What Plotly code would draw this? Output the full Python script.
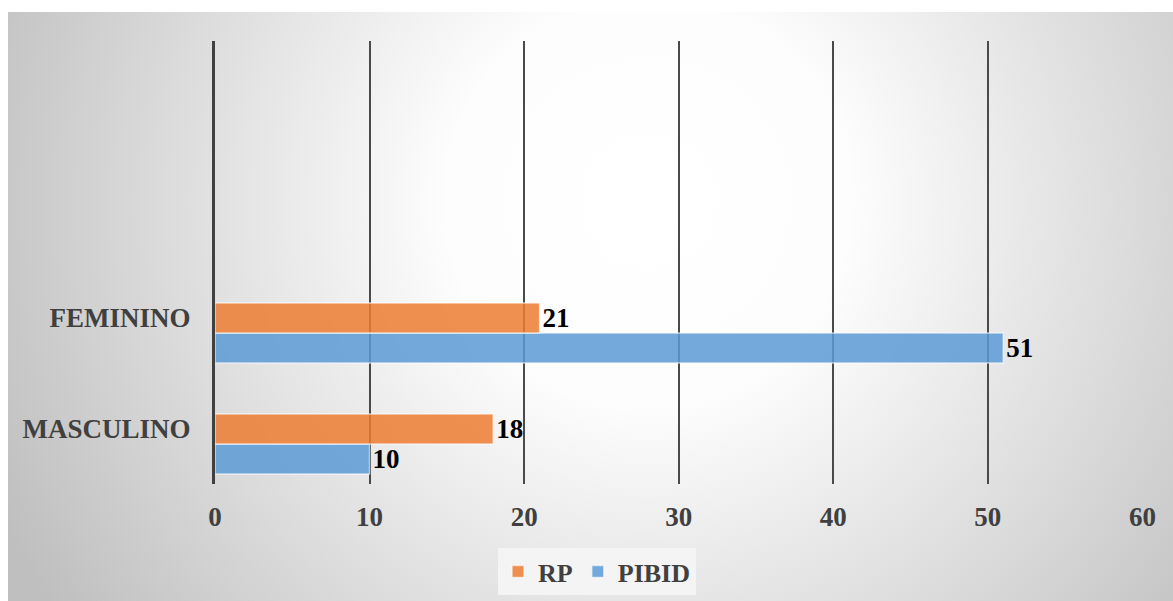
import base64
import plotly.graph_objects as go

categories = ["MASCULINO", "FEMININO"]
rp_values = [18, 21]
pibid_values = [10, 51]
x_ticks = [0, 10, 20, 30, 40, 50, 60]

W, H = 1173, 601
L, R, T, B = 215, 30, 41, 117
pw, ph = W - L - R, H - T - B

# radial gradient background (frame from x=8..1173, y=12..601)
fx0, fy0 = 8, 12
fw, fh = W - fx0, H - fy0
svg = f'''<svg xmlns="http://www.w3.org/2000/svg" width="{fw}" height="{fh}" viewBox="0 0 {fw} {fh}">
<defs><radialGradient id="g" gradientUnits="userSpaceOnUse" cx="640" cy="190" r="720">
<stop offset="0" stop-color="#ffffff"/><stop offset="0.28" stop-color="#fdfdfd"/>
<stop offset="1" stop-color="#bfbfbf"/></radialGradient></defs>
<rect x="0" y="0" width="{fw}" height="{fh}" fill="url(#g)"/></svg>'''
src = "data:image/svg+xml;base64," + base64.b64encode(svg.encode()).decode()

font_fam = "Liberation Serif, Times New Roman, serif"
ypos = list(range(len(categories)))

fig = go.Figure()
fig.add_trace(go.Bar(
    y=ypos, x=pibid_values, orientation="h", name="PIBID",
    marker=dict(color="rgba(91,155,213,0.85)", line=dict(color="rgba(255,255,255,0.6)", width=1.5)),
    text=pibid_values, textposition="outside", cliponaxis=False,
    textfont=dict(family=font_fam, size=27, color="#000000", weight="bold"),
    legendrank=2,
))
fig.add_trace(go.Bar(
    y=ypos, x=rp_values, orientation="h", name="RP",
    marker=dict(color="rgba(237,125,49,0.85)", line=dict(color="rgba(255,255,255,0.6)", width=1.5)),
    text=rp_values, textposition="outside", cliponaxis=False,
    textfont=dict(family=font_fam, size=27, color="#000000", weight="bold"),
    legendrank=1,
))

fig.update_layout(
    width=W, height=H,
    margin=dict(l=L, r=R, t=T, b=B, pad=0, autoexpand=False),
    paper_bgcolor="#ffffff",
    plot_bgcolor="rgba(0,0,0,0)",
    barmode="group", bargap=0.46, bargroupgap=0,
    images=[dict(source=src, xref="paper", yref="paper",
                 x=(fx0 - L) / pw, y=(H - B - fy0) / ph,
                 sizex=fw / pw, sizey=fh / ph,
                 xanchor="left", yanchor="top", sizing="stretch", layer="below")],
    xaxis=dict(range=[0, 60.04], tickvals=x_ticks, showgrid=True, gridcolor="#4a4a4a", gridwidth=1.5,
               zeroline=False, showline=False, ticks="", ticklabelstandoff=14,
               tickfont=dict(family=font_fam, size=27, color="#404040", weight="bold")),
    yaxis=dict(range=[-0.36, 3.63], tickvals=[v + 0.14 for v in ypos], ticktext=categories,
               showgrid=False, zeroline=False, showline=True, linecolor="#404040", linewidth=3,
               ticks="", ticklabelstandoff=16,
               tickfont=dict(family=font_fam, size=27, color="#404040", weight="bold")),
    legend=dict(orientation="h", x=(597 - L) / pw, xanchor="center", y=-(548 - (H - B)) / ph,
                yanchor="top", bgcolor="#f4f4f4", borderwidth=0,
                font=dict(family=font_fam, size=26, color="#404040", weight="bold"),
                itemwidth=30),
    showlegend=True,
)

fig.write_html("out.html")
